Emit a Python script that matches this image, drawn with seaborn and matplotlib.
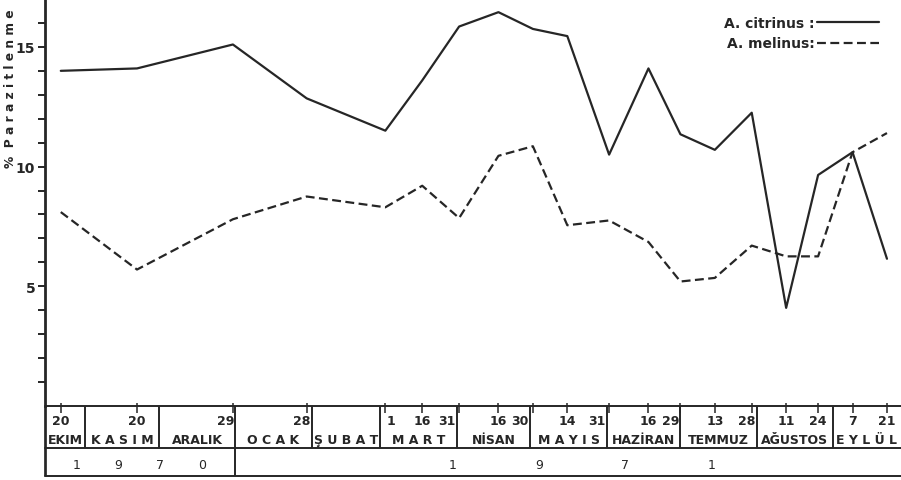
import matplotlib
matplotlib.use("Agg")
import numpy as np
import pandas as pd
import matplotlib.pyplot as plt
from matplotlib.ticker import FixedLocator
import seaborn as sns

# Sampling dates and parasitism rates (%) of the two Aphytis species
sample_dates = ["1970-10-20", "1970-11-20", "1970-12-29", "1971-01-28",
                "1971-03-01", "1971-03-16", "1971-03-31", "1971-04-16",
                "1971-04-30", "1971-05-14", "1971-05-31", "1971-06-16",
                "1971-06-29", "1971-07-13", "1971-07-28", "1971-08-11",
                "1971-08-24", "1971-09-07", "1971-09-21"]
citrinus = [14.0, 14.1, 15.1, 12.85, 11.5, 13.6, 15.85, 16.45, 15.75, 15.45,
            10.5, 14.1, 11.35, 10.7, 12.25, 4.1, 9.65, 10.6, 6.15]
melinus = [8.1, 5.7, 7.8, 8.75, 8.3, 9.2, 7.85, 10.45, 10.85, 7.55,
           7.75, 6.85, 5.2, 5.35, 6.7, 6.25, 6.25, 10.6, 11.4]
species = ["A. citrinus", "A. melinus"]
legend_labels = ["A. citrinus :", "A. melinus:"]

# Month row of the date table
month_starts = ["1970-11-01", "1970-12-01", "1971-01-01", "1971-02-01",
                "1971-03-01", "1971-04-01", "1971-05-01", "1971-06-01",
                "1971-07-01", "1971-08-01", "1971-09-01"]
month_labels = ["EKIM", "K A S I M", "ARALIK", "O C A K", "Ş U B A T",
                "M A R T", "NİSAN", "M A Y I S", "HAZİRAN",
                "TEMMUZ", "AĞUSTOS", "E Y L Ü L"]
years = ["1970", "1971"]
y_ticks = [5, 10, 15]
y_label = "%  P a r a z i t l e n m e"

ink = "#262626"
W, H = 901, 481

sns.set_theme(style="white")
plt.rcParams["font.family"] = ["DejaVu Sans"]
plt.rcParams["font.weight"] = "bold"

n = len(sample_dates)
df = pd.DataFrame({
    "tarih": pd.to_datetime(sample_dates * 2),
    "oran": citrinus + melinus,
    "tür": [species[0]] * n + [species[1]] * n,
})

fig = plt.figure(figsize=(W / 100, H / 100), dpi=100)
ax = fig.add_axes([45 / W, 1 - 407 / H, 856 / W, 407 / H])
tab = fig.add_axes([45 / W, 1 - 477 / H, 856 / W, 70 / H], sharex=ax)

sns.lineplot(data=df, x="tarih", y="oran", style="tür",
             dashes={species[0]: "", species[1]: (4, 2)},
             color=ink, linewidth=1.6, ax=ax, legend=False)

x0 = pd.Timestamp("1970-10-13 14:00")
x1 = pd.Timestamp("1971-09-26 17:00")
ax.set_xlim(x0, x1)
ax.set_ylim(0, 17)

# y axis
ax.set_yticks(y_ticks)
ax.yaxis.set_minor_locator(FixedLocator(list(range(1, 17))))
ax.tick_params(axis="y", which="both", direction="out", length=5, width=1.4,
               left=True, color=ink, labelcolor=ink, labelsize=10, pad=2)
ax.tick_params(axis="x", which="both", bottom=False, labelbottom=False)
for s in ["top", "right", "bottom"]:
    ax.spines[s].set_visible(False)
ax.spines["left"].set_color(ink)
ax.spines["left"].set_linewidth(2)
ax.set_xlabel("")
ax.set_ylabel("")
fig.text(11 / W, 1 - 168 / H, y_label, rotation=90, ha="center", va="bottom",
         fontsize=8.8, color=ink)

# legend with text first, line sample after
ax.legend(ax.lines[:2], legend_labels, markerfirst=False, frameon=False,
          handlelength=4.4, handletextpad=0.2, labelspacing=0.5,
          fontsize=10, loc="upper right",
          bbox_to_anchor=(891 / W, 1 - 4 / H), bbox_transform=fig.transFigure,
          labelcolor=ink)

# date table under the plot
tab.set_ylim(0, 1)
tab.axis("off")
lw = 1.4
shift = pd.Timedelta(days=2)
for yy in (1.0, 0.4, 0.0):
    tab.axhline(yy, color=ink, lw=lw, clip_on=False)
tab.vlines([x0], 0, 1, color=ink, lw=lw * 1.4, clip_on=False)
ms = pd.to_datetime(month_starts) - shift
tab.vlines(ms, 0.4, 1.0, color=ink, lw=lw, clip_on=False)
tab.vlines([pd.Timestamp("1971-01-01") - shift], 0, 0.4, color=ink, lw=lw,
           clip_on=False)

dates = pd.to_datetime(sample_dates)
tab.vlines(dates, 0.9, 1.04, color=ink, lw=1.1, clip_on=False)

one_day = pd.Timedelta(days=1)
for d in dates:
    nxt = (d + pd.offsets.MonthBegin(1)) - shift
    if d.day <= 2:
        tab.text(d + 0.3 * one_day, 0.79, str(d.day), ha="left", va="center",
                 fontsize=9, color=ink)
    elif (nxt - d).days <= 3:
        tab.text(nxt - 0.6 * one_day, 0.79, str(d.day), ha="right",
                 va="center", fontsize=9, color=ink)
    else:
        tab.text(d, 0.79, str(d.day), ha="center", va="center",
                 fontsize=9, color=ink)

edges = [x0] + list(ms) + [x1]
for i, lab in enumerate(month_labels):
    mid = edges[i] + (edges[i + 1] - edges[i]) / 2
    tab.text(mid, 0.52, lab, ha="center", va="center", fontsize=9, color=ink)

# year row, digits spread out
year_spans = [(pd.Timestamp("1970-11-21"), 17), (pd.Timestamp("1971-05-20"), 35)]
for yr, (center, step) in zip(years, year_spans):
    offs = (np.arange(4) - 1.5) * step
    for ch, o in zip(yr, offs):
        tab.text(center + pd.Timedelta(days=float(o)), 0.17, ch,
                 ha="center", va="center", fontsize=9, color=ink,
                 fontweight="normal")

fig.savefig("out.png", dpi=100, facecolor="white")
